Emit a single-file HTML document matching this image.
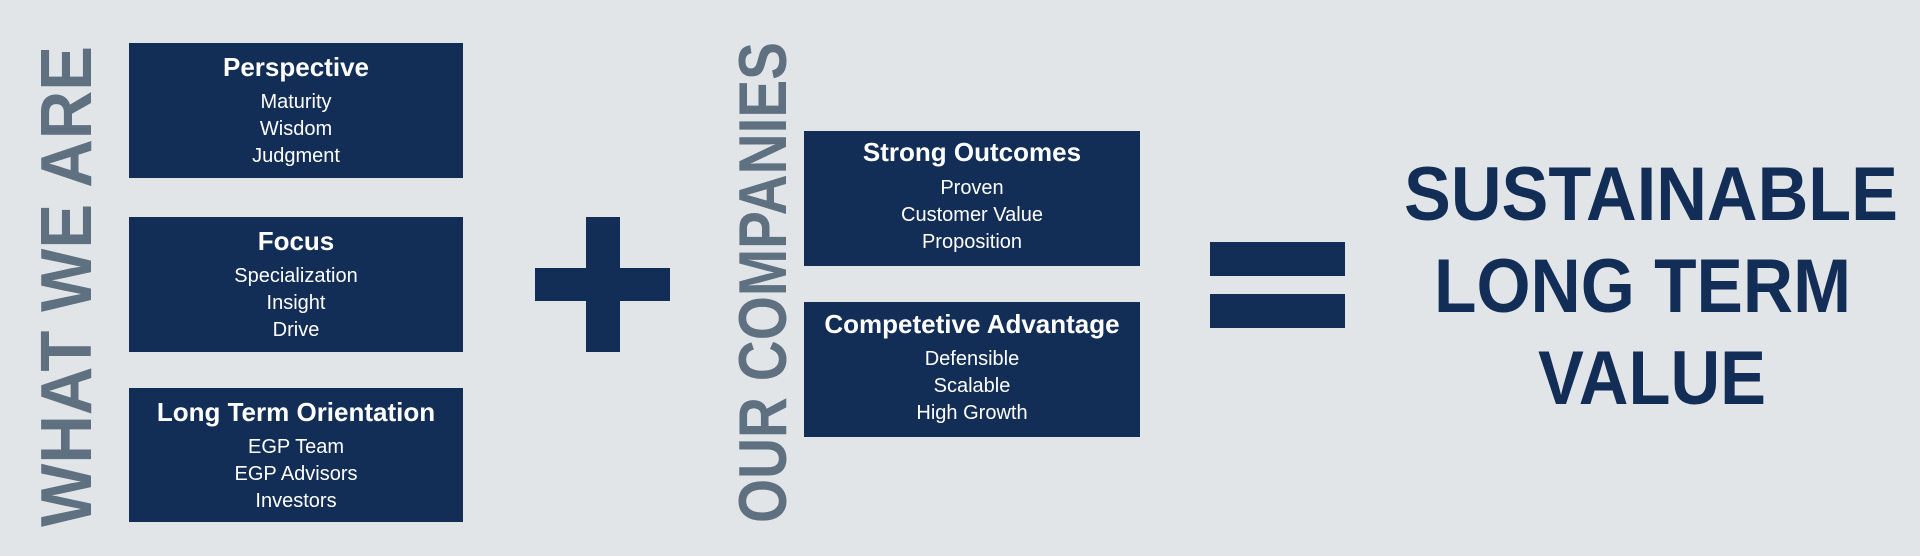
<!DOCTYPE html>
<html><head><meta charset="utf-8"><style>
html,body{margin:0;padding:0;background:#e1e5e8;}
svg{display:block;}
.t{font-family:"Liberation Sans",sans-serif;font-weight:bold;fill:#fff;font-size:26px;}
.s{font-family:"Liberation Sans",sans-serif;fill:#fff;font-size:20px;}
.v{font-family:"Liberation Sans",sans-serif;font-weight:bold;fill:#5f7080;}
.b{font-family:"Liberation Sans",sans-serif;font-weight:bold;fill:#122d56;font-size:76px;}
</style></head><body>
<svg width="1920" height="556" viewBox="0 0 1920 556">
<rect x="0" y="0" width="1920" height="556" fill="#e1e5e8"/>
<text class="v" font-size="72" transform="translate(91,527) rotate(-90)" textLength="481" lengthAdjust="spacingAndGlyphs">WHAT WE ARE</text>

<g>
<rect x="129" y="43" width="334" height="135" fill="#122d56"/>
<text class="t" x="296" y="76" text-anchor="middle">Perspective</text>
<text class="s" x="296" y="108" text-anchor="middle">Maturity</text>
<text class="s" x="296" y="135" text-anchor="middle">Wisdom</text>
<text class="s" x="296" y="162" text-anchor="middle">Judgment</text>
</g>
<g>
<rect x="129" y="217" width="334" height="135" fill="#122d56"/>
<text class="t" x="296" y="250" text-anchor="middle">Focus</text>
<text class="s" x="296" y="282" text-anchor="middle">Specialization</text>
<text class="s" x="296" y="309" text-anchor="middle">Insight</text>
<text class="s" x="296" y="336" text-anchor="middle">Drive</text>
</g>
<g>
<rect x="129" y="388" width="334" height="134" fill="#122d56"/>
<text class="t" x="296" y="421" text-anchor="middle">Long Term Orientation</text>
<text class="s" x="296" y="453" text-anchor="middle">EGP Team</text>
<text class="s" x="296" y="480" text-anchor="middle">EGP Advisors</text>
<text class="s" x="296" y="507" text-anchor="middle">Investors</text>
</g>

<g>
<rect x="586" y="217" width="34" height="135" fill="#122d56"/>
<rect x="535" y="268" width="135" height="33" fill="#122d56"/>
</g>

<text class="v" font-size="68" transform="translate(786,523) rotate(-90)" textLength="481" lengthAdjust="spacingAndGlyphs">OUR COMPANIES</text>

<g>
<rect x="804" y="131" width="336" height="135" fill="#122d56"/>
<text class="t" x="972" y="161" text-anchor="middle">Strong Outcomes</text>
<text class="s" x="972" y="194" text-anchor="middle">Proven</text>
<text class="s" x="972" y="221" text-anchor="middle">Customer Value</text>
<text class="s" x="972" y="248" text-anchor="middle">Proposition</text>
</g>
<g>
<rect x="804" y="302" width="336" height="135" fill="#122d56"/>
<text class="t" x="972" y="333" text-anchor="middle">Competetive Advantage</text>
<text class="s" x="972" y="365" text-anchor="middle">Defensible</text>
<text class="s" x="972" y="392" text-anchor="middle">Scalable</text>
<text class="s" x="972" y="419" text-anchor="middle">High Growth</text>
</g>

<g>
<rect x="1210" y="242" width="135" height="34" fill="#122d56"/>
<rect x="1210" y="294" width="135" height="34" fill="#122d56"/>
</g>

<g>
<text class="b" x="1404" y="220" textLength="494" lengthAdjust="spacingAndGlyphs">SUSTAINABLE</text>
<text class="b" x="1434" y="312" textLength="417" lengthAdjust="spacingAndGlyphs">LONG TERM</text>
<text class="b" x="1538" y="404" textLength="228" lengthAdjust="spacingAndGlyphs">VALUE</text>
</g>
</svg>
</body></html>
